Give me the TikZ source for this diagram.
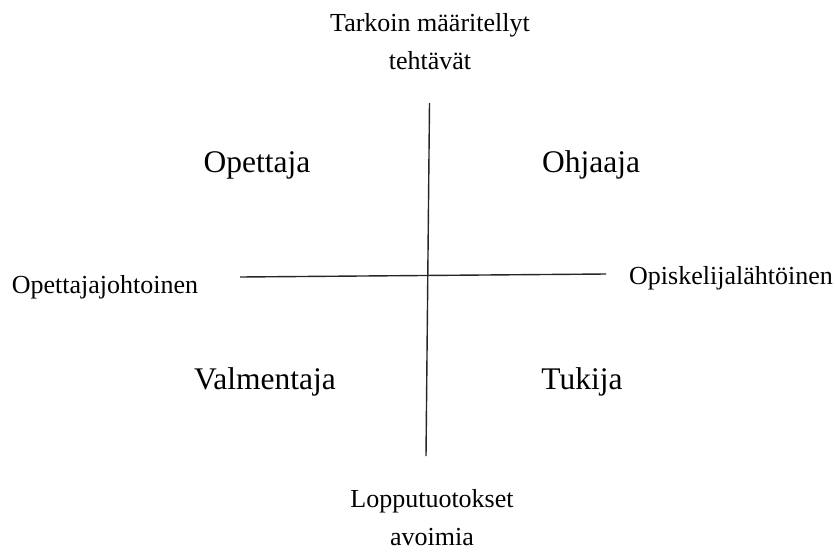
\documentclass[tikz,border=0pt]{standalone}
\usepackage{fontspec}
\setmainfont{Liberation Serif}
\begin{document}
\begin{tikzpicture}[x=1pt,y=-1pt,
  small/.style={font=\fontsize{26}{30}\selectfont, anchor=base, inner sep=0pt},
  big/.style={font=\fontsize{31.5}{36}\selectfont, anchor=base, inner sep=0pt},
  axis/.style={line width=1.4pt, black!85}]
\useasboundingbox (0,0) rectangle (835,552);
\coordinate (vtop) at (429.5,103);
\coordinate (vbot) at (426,456);
\coordinate (hleft) at (240,277);
\coordinate (hright) at (606,274);
\draw[axis] (vtop) -- (vbot);
\draw[axis] (hleft) -- (hright);
\node[small] (top1) at (430,31) {Tarkoin määritellyt};
\node[small] (top2) at (430,69) {tehtävät};
\node[big] (q1) at (257,172) {Opettaja};
\node[big] (q2) at (591,172) {Ohjaaja};
\node[small] (left) at (105,293) {Opettajajohtoinen};
\node[small] (right) at (731,284) {Opiskelijalähtöinen};
\node[big] (q3) at (265,389) {Valmentaja};
\node[big] (q4) at (582,389) {Tukija};
\node[small] (bot1) at (432,507) {Lopputuotokset};
\node[small] (bot2) at (432,545) {avoimia};
\end{tikzpicture}
\end{document}
